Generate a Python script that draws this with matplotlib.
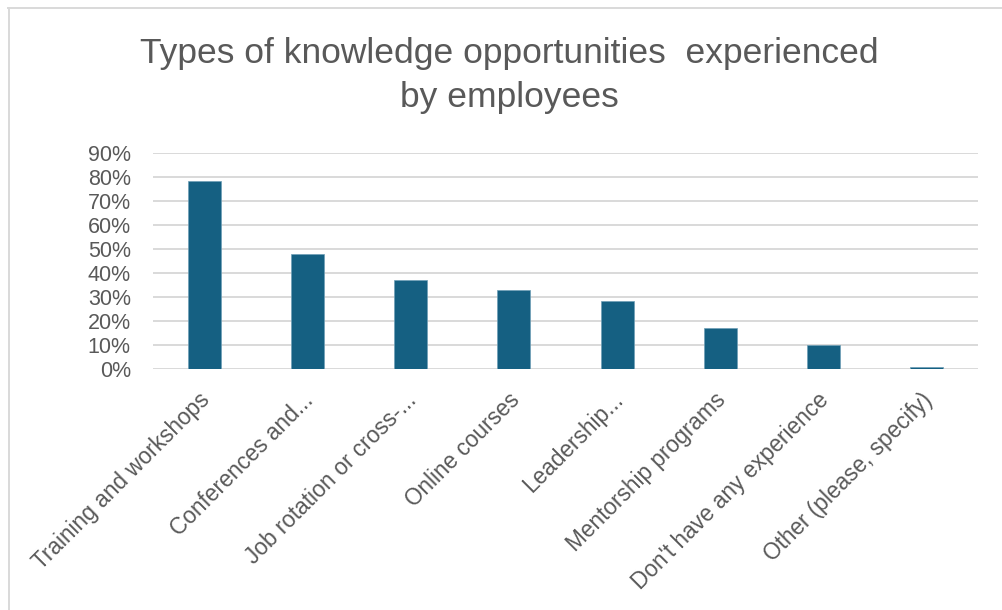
import matplotlib.pyplot as plt
from matplotlib.lines import Line2D
from matplotlib.ticker import PercentFormatter
from matplotlib.transforms import ScaledTranslation

# survey answers and share of employees
categories = [
    "Training and workshops",
    "Conferences and...",
    "Job rotation or cross-...",
    "Online courses",
    "Leadership...",
    "Mentorship programs",
    "Don't have any experience",
    "Other (please, specify)",
]
shares = [0.783, 0.479, 0.371, 0.329, 0.282, 0.169, 0.100, 0.010]
y_ticks = [0.0, 0.1, 0.2, 0.3, 0.4, 0.5, 0.6, 0.7, 0.8, 0.9]

title_lines = ["Types of knowledge opportunities  experienced", "by employees"]

grey = "#595959"
bar_color = "#156082"

plt.rcParams['font.family'] = ['Liberation Sans', 'DejaVu Sans']

fig = plt.figure(figsize=(10.03, 6.10), dpi=100)
fig.patch.set_facecolor("white")

# chart frame: only top and left edges are visible
fig.add_artist(Line2D([8 / 1003, 1.0], [1 - 8 / 610] * 2, color="#d9d9d9", lw=1.4,
                      transform=fig.transFigure))
fig.add_artist(Line2D([9 / 1003] * 2, [0.0, 1 - 8 / 610], color="#d9d9d9", lw=1.4,
                      transform=fig.transFigure))

ax = fig.add_axes([153 / 1003, 1 - 369 / 610, 825 / 1003, 216 / 610])

x = range(len(categories))
ax.bar(x, shares, width=0.32, color=bar_color, edgecolor="#6f9fb6", linewidth=0.5, zorder=3)

ax.set_xlim(-0.5, len(categories) - 0.5)
ax.set_ylim(0, 0.9)
ax.set_yticks(y_ticks)
ax.yaxis.set_major_formatter(PercentFormatter(1.0, decimals=0))
ax.grid(axis="y", color="#d9d9d9", linewidth=1.4, zorder=0)
ax.set_axisbelow(True)
for s in ax.spines.values():
    s.set_visible(False)

ax.tick_params(axis="y", length=0, pad=16, labelsize=15.5, labelcolor=grey)
ax.tick_params(axis="x", length=0, pad=14, labelsize=16.3, labelcolor=grey)
ax.set_xticks(list(x))
ax.set_xticklabels(categories, rotation=45, ha="right", rotation_mode="anchor")
shift = ScaledTranslation(-6 / 100, 0, fig.dpi_scale_trans)
for lbl in ax.get_xticklabels():
    lbl.set_transform(lbl.get_transform() + shift)

fig.text(509 / 1003, 1 - 63 / 610, title_lines[0], ha="center", va="baseline",
         fontsize=25.5, color=grey)
fig.text(509 / 1003, 1 - 107 / 610, title_lines[1], ha="center", va="baseline",
         fontsize=25.5, color=grey)

fig.savefig("out.png", dpi=100, facecolor="white")
